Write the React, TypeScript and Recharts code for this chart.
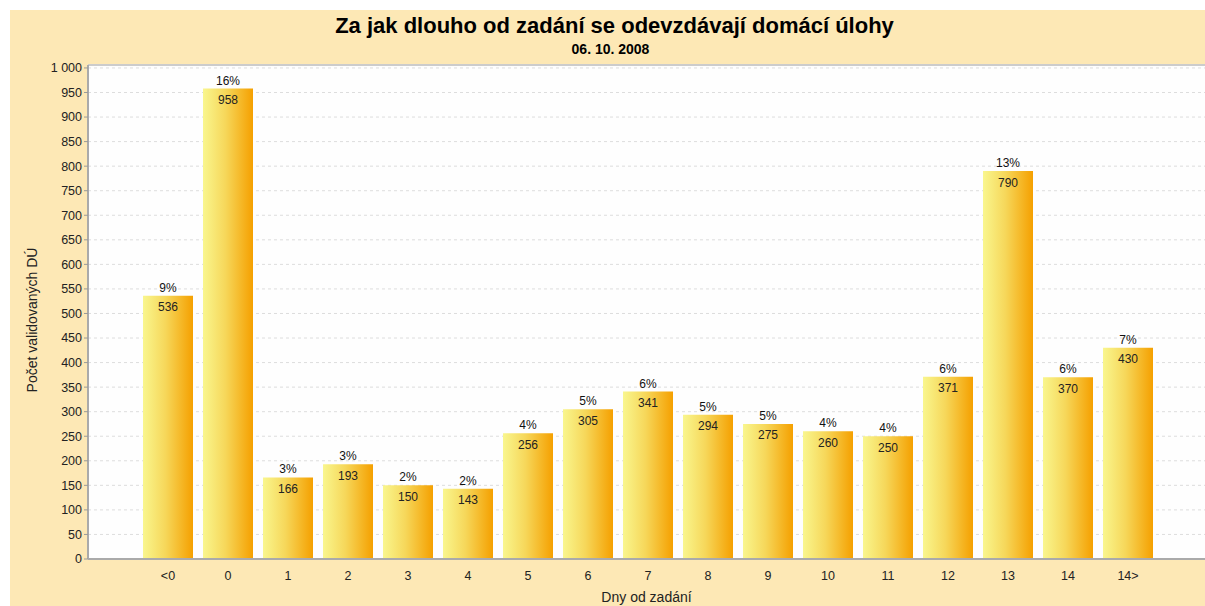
import React from 'react';
import { BarChart, Bar, XAxis, YAxis, CartesianGrid, LabelList, ReferenceLine } from 'recharts';

const categories = ['<0', '0', '1', '2', '3', '4', '5', '6', '7', '8', '9', '10', '11', '12', '13', '14', '14>'];
const counts = [536, 958, 166, 193, 150, 143, 256, 305, 341, 294, 275, 260, 250, 371, 790, 370, 430];
const percentLabels = ['9%', '16%', '3%', '3%', '2%', '2%', '4%', '5%', '6%', '5%', '5%', '4%', '4%', '6%', '13%', '6%', '7%'];
const yTicks = [0, 50, 100, 150, 200, 250, 300, 350, 400, 450, 500, 550, 600, 650, 700, 750, 800, 850, 900, 950, 1000];
const yMax = 1006;

const data = categories.map((c, i) => ({ cat: c, value: counts[i], pct: percentLabels[i] }));

const FONT = '"Liberation Sans", Arial, sans-serif';

const fmt = (v: number) => {
  const s = String(v);
  return s.length > 3 ? s.slice(0, s.length - 3) + ' ' + s.slice(-3) : s;
};

export default function App() {
  return (
    <div style={{ position: 'absolute', left: 0, top: 0, width: 1205, height: 606, background: '#fff', fontFamily: FONT }}>
      <div style={{ position: 'absolute', left: 10, top: 10, width: 1195, height: 596, background: '#FDE8B5' }}>
        <div style={{ position: 'absolute', left: 7, top: 3, width: 1195, textAlign: 'center', fontWeight: 'bold', fontSize: 22, color: '#000' }}>
          Za jak dlouho od zadání se odevzdávají domácí úlohy
        </div>
        <div style={{ position: 'absolute', left: 3, top: 31, width: 1195, textAlign: 'center', fontWeight: 'bold', fontSize: 14, color: '#000' }}>
          06. 10. 2008
        </div>
        <div style={{ position: 'absolute', left: 0, top: 0 }}>
          <BarChart width={1195} height={596} data={data} margin={{ top: 55, right: 0, bottom: 17, left: 0 }} barSize={50}>
            <defs>
              <linearGradient id="barGrad" x1="0" y1="0" x2="1" y2="0">
                <stop offset="0%" stopColor="#F9F68E" />
                <stop offset="45%" stopColor="#F6D75A" />
                <stop offset="100%" stopColor="#F5A000" />
              </linearGradient>
            </defs>
            <CartesianGrid vertical={false} stroke="#DDDDDD" strokeDasharray="3 3" fill="#FEFEFE" />
            <ReferenceLine y={yMax} stroke="#CCCCCC" strokeWidth={2} />
            <XAxis
              dataKey="cat"
              padding={{ left: 50, right: 47 }}
              tickLine={false}
              axisLine={{ stroke: '#AAAAAA', strokeWidth: 2 }}
              tick={{ fontSize: 12.5, fill: '#222', fontFamily: FONT }}
              interval={0}
              dy={4}
              label={{
                content: (props: any) => {
                  const vb = props.viewBox;
                  return (
                    <text x={vb.x + vb.width / 2} y={vb.y + 43} textAnchor="middle" fontSize={14} fill="#222" fontFamily={FONT}>
                      Dny od zadání
                    </text>
                  );
                },
              }}
            />
            <YAxis
              width={78}
              domain={[0, yMax]}
              ticks={yTicks}
              interval={0}
              tickFormatter={fmt}
              tickSize={4}
              tickLine={{ stroke: '#999' }}
              axisLine={{ stroke: '#AAAAAA', strokeWidth: 2 }}
              tick={{ fontSize: 12.5, fill: '#222', fontFamily: FONT }}
              label={{
                content: (props: any) => {
                  const vb = props.viewBox;
                  const cx = vb.x + 27;
                  const cy = vb.y + vb.height / 2 + 8;
                  return (
                    <text x={cx} y={cy} transform={`rotate(-90 ${cx} ${cy})`} textAnchor="middle" fontSize={14} fill="#222" fontFamily={FONT}>
                      Počet validovaných DÚ
                    </text>
                  );
                },
              }}
            />
            <Bar dataKey="value" fill="url(#barGrad)" isAnimationActive={false}>
              <LabelList dataKey="pct" position="top" offset={4} fill="#111" fontSize={12} fontFamily={FONT} />
              <LabelList dataKey="value" position="insideTop" offset={7} fill="#222" fontSize={12} fontFamily={FONT} />
            </Bar>
          </BarChart>
        </div>
      </div>
    </div>
  );
}
